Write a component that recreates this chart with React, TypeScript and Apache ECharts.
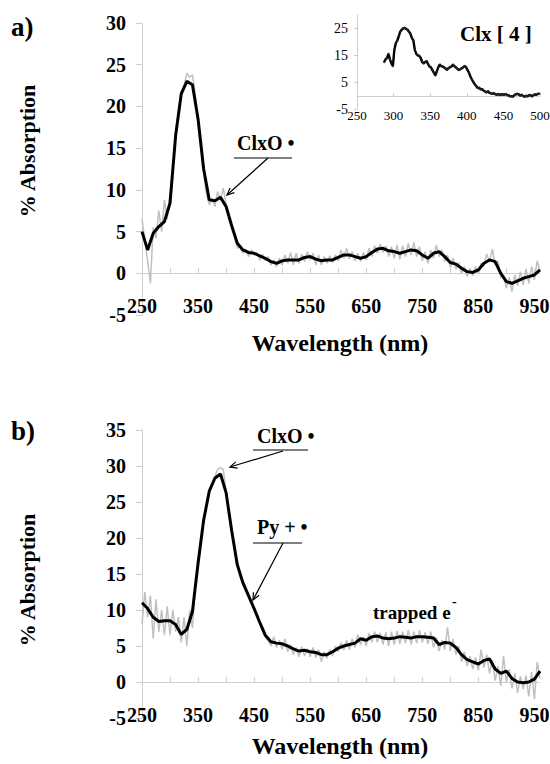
import React, { useEffect, useRef } from "react";
import * as echarts from "echarts";

const FONT = "'Liberation Serif', 'Times New Roman', serif";

// sampling grids (nm)
function range(start: number, end: number, step: number): number[] {
  const out: number[] = [];
  for (let v = start; v <= end + 1e-9; v += step) out.push(v);
  return out;
}
const wlRaw = range(250, 960, 5);
const wlSmooth = range(250, 960, 10);
const insetWl = range(287, 499, 2);

// panel a) raw (grey) and smoothed (black) % absorption
const rawA = [
  6.5, 4.0, 1.5, -1.2, 5.5, 4.2, 7.5, 5.0, 8.8, 6.5,
  9.5, 12.5, 17.0, 19.5, 21.8, 22.5, 24.0, 23.5, 23.8, 21.5,
  18.0, 15.0, 12.0, 9.5, 8.2, 9.0, 8.0, 9.8, 8.8, 10.2,
  8.3, 7.0, 5.5, 4.5, 3.0, 3.3, 2.4, 2.9, 2.0, 2.8,
  2.2, 2.5, 1.6, 2.3, 1.5, 2.0, 1.0, 1.6, 0.8, 1.8,
  1.0, 2.2, 1.2, 2.5, 1.0, 2.4, 1.2, 2.3, 1.4, 2.6,
  1.6, 2.4, 1.0, 2.2, 1.0, 2.0, 1.2, 2.1, 1.3, 2.2,
  1.5, 2.8, 1.8, 3.0, 1.7, 2.6, 1.5, 2.4, 1.4, 2.5,
  1.6, 3.0, 2.0, 3.3, 2.4, 3.5, 2.5, 3.3, 2.0, 3.2,
  1.8, 3.4, 1.7, 3.3, 2.0, 3.6, 2.2, 3.7, 2.0, 3.2,
  1.5, 2.6, 1.2, 2.8, 1.8, 3.4, 2.0, 2.8, 1.4, 2.2,
  0.7, 1.8, 0.5, 1.3, 0.0, 0.8, -0.4, 0.6, -0.3, 0.8,
  0.0, 1.2, 0.9, 2.3, 1.4, 2.9, 1.0, 1.5, -0.5, -0.3,
  -1.8, -0.5, -2.2, -0.2, -1.5, 0.2, -1.4, 0.5, -1.2, 0.8,
  -0.8, 1.5, 0.2,
];
const smoothA = [
  5.0, 2.8, 4.8, 5.6, 6.2, 8.4, 16.5, 21.5, 23.0,
  22.6, 18.5, 12.5, 8.8, 8.7, 9.1, 8.0, 5.7, 3.6,
  2.8, 2.5, 2.4, 2.1, 1.8, 1.4, 1.2, 1.5, 1.6,
  1.6, 1.6, 1.9, 2.0, 1.7, 1.5, 1.6, 1.6, 1.9,
  2.2, 2.2, 2.0, 1.8, 2.0, 2.5, 2.9, 3.0, 2.7,
  2.6, 2.4, 2.6, 2.8, 2.7, 2.2, 1.8, 2.4, 2.6,
  2.0, 1.3, 1.1, 0.6, 0.2, 0.1, 0.4, 1.2, 1.6,
  1.4, 0.0, -1.0, -1.2, -0.9, -0.6, -0.4, -0.2, 0.4,
];

// panel b)
const rawB = [
  8.0, 12.5, 9.0, 12.0, 6.0, 11.5, 7.0, 10.0, 6.5, 10.5,
  6.5, 10.0, 7.0, 9.0, 5.5, 9.0, 5.0, 10.0, 7.5, 13.0,
  15.5, 19.5, 22.5, 24.5, 26.5, 27.5, 28.5, 29.5, 29.8, 29.5,
  26.5, 23.5, 21.0, 18.5, 16.0, 14.5, 13.5, 12.8, 12.0, 11.0,
  10.2, 9.0, 8.0, 7.0, 6.2, 5.8, 5.0, 6.3, 4.8, 5.8,
  4.5, 6.0, 4.2, 5.2, 3.8, 4.8, 3.5, 4.9, 3.6, 4.6,
  3.5, 4.8, 3.4, 4.5, 2.8, 4.2, 3.3, 4.5, 3.6, 5.0,
  4.2, 5.5, 4.4, 5.8, 4.5, 6.0, 4.8, 6.6, 5.2, 6.3,
  5.0, 6.8, 5.5, 7.0, 5.5, 6.8, 5.2, 6.9, 5.0, 7.0,
  5.2, 7.1, 5.3, 7.0, 5.4, 7.2, 5.2, 7.0, 5.4, 7.2,
  5.5, 6.9, 5.3, 7.0, 4.8, 6.2, 4.3, 5.8, 4.5, 7.6,
  4.3, 6.0, 3.8, 5.0, 2.8, 4.2, 2.2, 3.6, 1.8, 3.4,
  1.6, 4.5, 2.0, 3.8, 1.2, 3.0, 0.2, 2.2, -0.5, 3.6,
  0.0, 1.8, -0.9, 1.2, -1.5, 0.8, -1.0, 0.9, -2.0, 1.4,
  -2.4, 2.8, 0.5,
];
const smoothB = [
  11.0, 10.2, 9.0, 8.4, 8.5, 8.5, 8.0, 6.6, 7.3,
  9.8, 16.5, 22.5, 26.5, 28.3, 28.9, 26.3, 21.0, 16.3,
  13.8, 12.0, 10.2, 8.3, 6.5, 5.6, 5.4, 5.3, 5.0,
  4.6, 4.3, 4.4, 4.2, 4.1, 3.8, 3.8, 4.2, 4.7,
  5.0, 5.2, 5.4, 6.0, 5.8, 6.3, 6.4, 6.1, 6.0,
  6.1, 6.3, 6.2, 6.1, 6.3, 6.3, 6.2, 6.1, 5.2,
  5.5, 5.4, 4.8, 3.8, 3.1, 2.8, 2.5, 3.0, 3.2,
  1.8, 1.2, 1.5, 0.5, 0.0, -0.1, 0.0, 0.4, 1.5,
];

// inset: Clx [ 4 ]
const insetVals = [
  12.5, 13.5, 14.0, 15.5, 13.5, 12.0, 11.0, 17.0, 19.5, 20.5,
  22.0, 23.8, 24.5, 25.0, 25.2, 24.8, 24.5, 23.8, 23.0, 21.5,
  20.5, 17.0, 15.5, 15.0, 14.8, 14.0, 12.5, 12.0, 12.5, 12.8,
  11.8, 10.8, 10.5, 9.5, 8.5, 7.5, 9.0, 10.5, 11.5, 11.0,
  10.8, 10.5, 10.0, 9.6, 10.2, 10.6, 10.8, 11.5, 11.0, 10.5,
  10.0, 9.5, 9.8, 10.2, 10.5, 11.0, 10.6, 9.5, 8.5, 7.0,
  6.0, 5.0, 4.2, 3.5, 2.8, 2.9, 2.3, 2.4, 1.8, 1.5,
  1.2, 1.6, 1.0, 0.8, 0.6, 0.9, 0.5, 0.3, 0.6, 0.2,
  0.5, 0.4, 0.3, 0.6, 0.2, 0.1, -0.3, -0.2, -0.4, 0.2,
  0.5, 0.6, 0.4, 0.0, 0.3, -0.2, -0.4, -0.1, -0.3, 0.2,
  0.1, -0.3, 0.2, 0.4, 0.3, 0.6, 0.7,
];

const pair = (xs: number[], ys: number[]) => xs.map((x, i) => [x, ys[i]]);

const AXIS_GRAY = "#cfcfcf";

// x axis drawn at y = 0: offset is the (negative) distance from the grid bottom (-5) to 0
function mainX(gridIndex: number, zeroOffset: number) {
  return {
    type: "value",
    gridIndex,
    position: "bottom",
    offset: zeroOffset,
    min: 250,
    max: 960,
    interval: 50,
    axisLine: { show: true, onZero: false, lineStyle: { color: AXIS_GRAY, width: 1 } },
    axisTick: { show: true, inside: true, length: 5, lineStyle: { color: AXIS_GRAY } },
    splitLine: { show: false },
    axisLabel: {
      margin: 23,
      fontFamily: FONT,
      fontWeight: "bold",
      fontSize: 20,
      color: "#000",
      showMinLabel: true,
      showMaxLabel: false,
      formatter: (v: number) => ((v - 250) % 100 === 0 && v <= 950 ? String(v) : ""),
    },
  };
}

function mainY(gridIndex: number, max: number) {
  return {
    type: "value",
    gridIndex,
    min: -5,
    max,
    interval: 5,
    axisLine: { show: true, onZero: false, lineStyle: { color: AXIS_GRAY, width: 1 } },
    axisTick: { show: true, inside: false, length: 6, lineStyle: { color: AXIS_GRAY } },
    splitLine: { show: false },
    axisLabel: {
      margin: 16,
      fontFamily: FONT,
      fontWeight: "bold",
      fontSize: 20,
      color: "#000",
      showMinLabel: true,
      showMaxLabel: true,
    },
  };
}

function txt(x: number, y: number, text: string, size: number, extra: any = {}) {
  const align = extra.align || "left";
  return {
    type: "text",
    x,
    y,
    rotation: extra.rotation || 0,
    style: {
      text,
      fontFamily: FONT,
      fontWeight: extra.weight || "bold",
      fontSize: size,
      fill: "#000",
      align,
      textAlign: align,
      verticalAlign: "middle",
      textVerticalAlign: "middle",
    },
  };
}

function seg(x1: number, y1: number, x2: number, y2: number) {
  return { type: "line", shape: { x1, y1, x2, y2 }, style: { stroke: "#000", lineWidth: 1.2 } };
}

function arrow(x1: number, y1: number, x2: number, y2: number) {
  const dx = x2 - x1;
  const dy = y2 - y1;
  const L = Math.hypot(dx, dy);
  const ux = dx / L;
  const uy = dy / L;
  const h = 7;
  const w = 3.2;
  const bx = x2 - ux * h;
  const by = y2 - uy * h;
  return [
    seg(x1, y1, x2, y2),
    {
      type: "polyline",
      shape: { points: [[bx - uy * w, by + ux * w], [x2, y2], [bx + uy * w, by - ux * w]] },
      style: { stroke: "#000", lineWidth: 1.2, fill: null },
    },
  ];
}

export default function App() {
  const ref = useRef<HTMLDivElement>(null);

  useEffect(() => {
    if (!ref.current) return;
    const chart = echarts.init(ref.current, undefined, { renderer: "svg" });

    const option: any = {
      animation: false,
      backgroundColor: "#fff",
      grid: [
        { left: 142, top: 23, width: 398, height: 292, containLabel: false, outerBoundsMode: "none" },
        { left: 357, top: 15, width: 183, height: 94, containLabel: false, outerBoundsMode: "none" },
        { left: 142, top: 430, width: 398, height: 288, containLabel: false, outerBoundsMode: "none" },
      ],
      xAxis: [
        mainX(0, -42),
        {
          type: "value",
          gridIndex: 1,
          position: "bottom",
          offset: -13,
          min: 250,
          max: 500,
          interval: 50,
          axisLine: { show: true, onZero: false, lineStyle: { color: AXIS_GRAY, width: 1 } },
          axisTick: { show: true, inside: true, length: 3, lineStyle: { color: AXIS_GRAY } },
          splitLine: { show: false },
          axisLabel: {
            margin: 13,
            fontFamily: FONT,
            fontSize: 13,
            color: "#000",
            showMinLabel: true,
            showMaxLabel: true,
          },
        },
        mainX(2, -36),
      ],
      yAxis: [
        mainY(0, 30),
        {
          type: "value",
          gridIndex: 1,
          min: -5,
          max: 30,
          interval: 10,
          axisLine: { show: true, onZero: false, lineStyle: { color: AXIS_GRAY, width: 1 } },
          axisTick: { show: true, inside: false, length: 3, lineStyle: { color: AXIS_GRAY } },
          splitLine: { show: false },
          axisLabel: {
            margin: 9,
            fontFamily: FONT,
            fontSize: 14,
            color: "#000",
            showMinLabel: true,
            showMaxLabel: false,
            formatter: (v: number) => (v === 30 ? "" : String(v)),
          },
        },
        mainY(2, 35),
      ],
      series: [
        {
          type: "line",
          xAxisIndex: 0,
          yAxisIndex: 0,
          data: pair(wlRaw, rawA),
          showSymbol: false,
          lineStyle: { color: "#c0c0c0", width: 1.5 },
          z: 2,
        },
        {
          type: "line",
          xAxisIndex: 0,
          yAxisIndex: 0,
          data: pair(wlSmooth, smoothA),
          showSymbol: false,
          lineStyle: { color: "#000", width: 3 },
          z: 3,
        },
        {
          type: "line",
          xAxisIndex: 1,
          yAxisIndex: 1,
          data: pair(insetWl, insetVals),
          symbol: "circle",
          symbolSize: 2,
          showSymbol: true,
          itemStyle: { color: "#222" },
          lineStyle: { color: "#000", width: 2.4 },
          z: 4,
        },
        {
          type: "line",
          xAxisIndex: 2,
          yAxisIndex: 2,
          data: pair(wlRaw, rawB),
          showSymbol: false,
          lineStyle: { color: "#c0c0c0", width: 1.5 },
          z: 2,
        },
        {
          type: "line",
          xAxisIndex: 2,
          yAxisIndex: 2,
          data: pair(wlSmooth, smoothB),
          showSymbol: false,
          lineStyle: { color: "#000", width: 3 },
          z: 3,
        },
      ],
      graphic: [
        txt(11, 27, "a)", 27),
        txt(11, 431, "b)", 27),
        txt(27, 151, "% Absorption", 22, { align: "center", rotation: Math.PI / 2 }),
        txt(27, 580, "% Absorption", 22, { align: "center", rotation: Math.PI / 2 }),
        txt(340, 343, "Wavelength (nm)", 24, { align: "center" }),
        txt(340, 746, "Wavelength (nm)", 24, { align: "center" }),
        txt(460, 34, "Clx [ 4 ]", 21),
        // panel a annotation
        txt(237, 143, "ClxO \u2022", 20),
        seg(234, 158, 292, 158),
        ...arrow(268, 158, 227, 195),
        // panel b annotations
        txt(257, 436, "ClxO \u2022", 20),
        seg(253, 450, 308, 450),
        ...arrow(283, 451, 230, 467),
        txt(257, 527, "Py + \u2022", 20),
        seg(253, 543, 302, 543),
        ...arrow(283, 543, 253, 600),
        txt(373, 612, "trapped e", 19),
        txt(452, 601, "-", 14),
      ],
    };

    chart.setOption(option);
    return () => chart.dispose();
  }, []);

  return (
    <div
      ref={ref}
      style={{ position: "absolute", left: 0, top: 0, width: 550, height: 764, background: "#fff" }}
    />
  );
}
